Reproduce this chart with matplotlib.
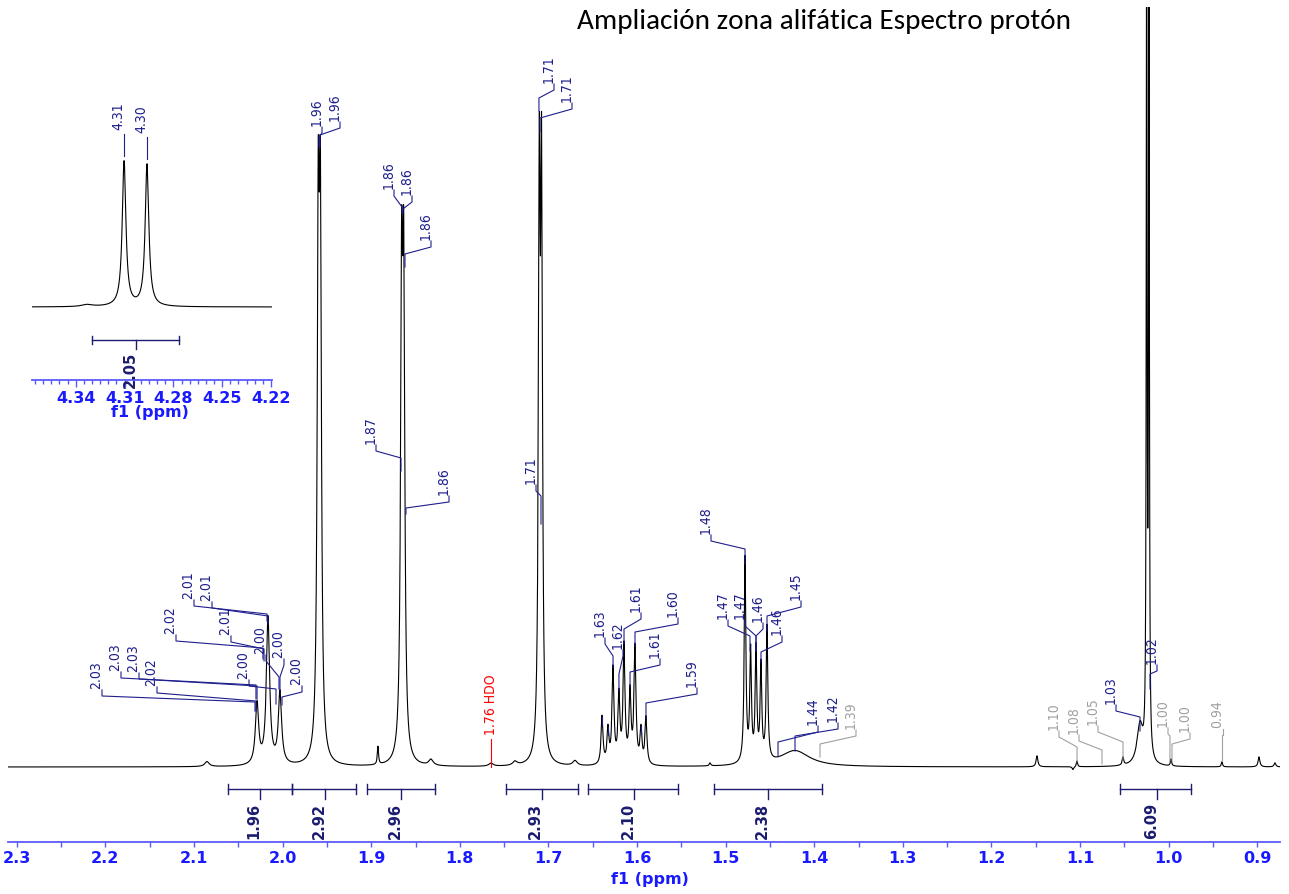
import numpy as np
import matplotlib
matplotlib.use('Agg')
import matplotlib.pyplot as plt
from matplotlib import font_manager as fm
import matplotlib.transforms as mtransforms

W, H, DPI = 1289, 895, 100

# ------------------------------------------------------------------ data
# main spectrum: peak centres (ppm), heights (arb.), half widths (ppm)
peak_ppm = [2.0854, 2.0289, 2.0165, 2.0030, 1.9598, 1.9574, 1.8924, 1.8657, 1.8633,
            1.8325, 1.7648, 1.7377, 1.7103, 1.7077, 1.6700,
            1.6395, 1.6328, 1.6271, 1.6204, 1.6147, 1.6079, 1.6023, 1.5955, 1.5899, 1.5176,
            1.4781, 1.4718, 1.4657, 1.4601, 1.4533, 1.4217,
            1.1486, 1.1079, 1.1034, 1.0515, 1.0323, 1.0248, 1.0222, 0.9973, 0.9398, 0.8980, 0.8800]
peak_height = [5, 61, 147, 72, 498, 498, 18, 443, 443,
               6, 3, 4, 555, 555, 5,
               48, 34, 95, 67, 117, 70, 116, 34, 47, 3,
               205, 110, 112, 95, 134, 16,
               11, -3, 6, 8, 40, 900, 900, 7, 5, 10, 4]
peak_hwhm = [0.003, 0.0022, 0.0022, 0.0022, 0.0014, 0.0014, 0.0008, 0.0014, 0.0014,
             0.003, 0.003, 0.003, 0.0012, 0.0012, 0.003,
             0.0013, 0.0013, 0.0013, 0.0013, 0.0013, 0.0013, 0.0013, 0.0013, 0.0013, 0.001,
             0.0011, 0.0011, 0.0011, 0.0011, 0.0011, 0.02,
             0.0012, 0.001, 0.0008, 0.001, 0.004, 0.0005, 0.0005, 0.0008, 0.0008, 0.0012, 0.0012]

main_ticks = [2.3, 2.2, 2.1, 2.0, 1.9, 1.8, 1.7, 1.6, 1.5, 1.4, 1.3, 1.2, 1.1, 1.0, 0.9]

# integrals
integral_from = [2.0617, 1.9894, 1.9051, 1.7479, 1.6559, 1.5131, 1.0550]
integral_to = [1.9894, 1.9172, 1.8276, 1.6667, 1.5543, 1.3907, 0.9750]
integral_mid = [2.0256, 1.9522, 1.8661, 1.7076, 1.6034, 1.4522, 1.0127]
integral_text = ['1.96', '2.92', '2.96', '2.93', '2.10', '2.38', '6.09']

# peak picking labels (touch point on spectrum)
pk_text = ['2.03', '2.03', '2.03', '2.02', '2.02', '2.01', '2.01', '2.01', '2.00', '2.00', '2.00', '2.00',
           '1.96', '1.96', '1.86', '1.86', '1.86', '1.87', '1.86', '1.71', '1.71', '1.71',
           '1.63', '1.62', '1.61', '1.60', '1.61', '1.59',
           '1.48', '1.47', '1.47', '1.46', '1.46', '1.45', '1.44', '1.42', '1.39',
           '1.10', '1.08', '1.05', '1.03', '1.02', '1.00', '1.00', '0.94']
pk_ppm = [2.0312, 2.0301, 2.0289, 2.0301, 2.0222, 2.0176, 2.0165, 2.0210, 2.0075, 2.0041, 2.0030, 2.0007,
          1.9590, 1.9578, 1.8653, 1.8642, 1.8619, 1.8664, 1.8608, 1.7107, 1.7095, 1.7084,
          1.6271, 1.6204, 1.6147, 1.6023, 1.6079, 1.5899,
          1.4781, 1.4725, 1.4657, 1.4657, 1.4601, 1.4533, 1.4409, 1.4217, 1.3935,
          1.1034, 1.0752, 1.0515, 1.0323, 1.0210, 0.9985, 0.9962, 0.9398]
pk_int = [56, 68, 68, 56, 108, 146, 143, 106, 63, 78, 76, 62,
          620, 620, 554, 554, 500, 296, 253, 656, 635, 243,
          100, 76, 123, 121, 80, 49,
          203, 116, 116, 116, 105, 136, 11, 16, 10,
          5, 3, 8, 36, 78, 6, 6, 6]
pk_grey = ['1.39', '1.10', '1.08', '1.05', '1.00', '0.94']

# unlabeled peak marks
mark_ppm = [1.6395, 1.6328, 1.5955]
mark_int = [50, 40, 41]

hdo_ppm, hdo_text = 1.7648, '1.76 HDO'

# inset (4.31 / 4.30 doublet)
inset_ppm = [4.3103, 4.2962, 4.3330]
inset_height = [145, 142, 2]
inset_hwhm = [0.00135, 0.00135, 0.004]
inset_ticks = [4.34, 4.31, 4.28, 4.25, 4.22]
inset_label_text = ['4.31', '4.30']
inset_label_ppm = [4.3103, 4.2962]
inset_label_int = [151, 148]
inset_integral = (4.3300, 4.2765, 4.3030, '2.05')

title = 'Ampliación zona alifática Espectro protón'

# ------------------------------------------------------------------ layout (pixels)
lab_x = [102, 121, 139, 157, 176, 194, 212, 231, 249, 266, 284, 302,
         322, 340, 394, 412, 431, 376, 449, 554, 572, 536,
         605, 623, 641, 678, 660, 697,
         711, 728, 745, 763, 782, 801, 818, 838, 856,
         1059, 1079, 1098, 1116, 1157, 1168, 1190, 1223]
lab_bend = [697, 679, 680, 694, 642, 607, 609, 643, 687, 662, 666, 693,
            134, 129, 197, 203, 248, 452, 503, 91, 110, 492,
            645, 657, 620, 625, 666, 695,
            542, 627, 627, 630, 643, 608, 733, 730, 737,
            738, 742, 733, 712, 672, 735, 740, 736]
lab_knee = [703, 686, 687, 702, 649, 615, 617, 650, 690, 678, 678, 698,
            138, 136, 208, 210, 255, 459, 509, 99, 119, 497,
            657, 675, 630, 633, 673, 704,
            550, 637, 637, 637, 653, 617, 743, 737, 745,
            748, 751, 743, 718, 675, 737, 745, 736]


def X(px):
    return 2.319 - px / 886.0


def Y(py):
    return 768.0 - py


# ------------------------------------------------------------------ fonts / colours
names = {f.name for f in fm.fontManager.ttflist}
if 'Liberation Sans Narrow' in names:
    lab_fp = fm.FontProperties(family='Liberation Sans Narrow', size=10.5)
else:
    cond = [f.fname for f in fm.fontManager.ttflist
            if f.name == 'DejaVu Sans' and 'Condensed' in f.fname
            and 'Bold' not in f.fname and 'Oblique' not in f.fname]
    if cond:
        lab_fp = fm.FontProperties(fname=cond[0], size=10)
    else:
        lab_fp = fm.FontProperties(family='DejaVu Sans', size=8.5)
title_family = 'Carlito' if 'Carlito' in names else 'Lato'

NAVY = '#1e1e8c'
GREY = '#a0a0a0'
BLUE_T = '#1a1aff'
BLUE_AX = '#5a5aff'
INT_C = '#1c1c70'

fig = plt.figure(figsize=(W / DPI, H / DPI), dpi=DPI)

# ------------------------------------------------------------------ main axes
ax = fig.add_axes([8 / W, (H - 843) / H, 1272 / W, 835 / H])
ax.set_xlim(X(8), X(1280))
ax.set_ylim(-75, 760)

grid = np.arange(X(1280), X(8), 0.00004)
spec = np.zeros_like(grid)
for p, h, g in zip(peak_ppm, peak_height, peak_hwhm):
    spec += h / (1.0 + ((grid - p) / g) ** 2)
ax.plot(grid, spec, color='black', lw=0.8)

for s in ['top', 'left', 'right']:
    ax.spines[s].set_visible(False)
ax.spines['bottom'].set_color(BLUE_AX)
ax.spines['bottom'].set_linewidth(1.3)
ax.tick_params(axis='y', left=False, labelleft=False)
ax.set_xticks(main_ticks)
ax.set_xticklabels(['%.1f' % t for t in main_ticks], fontweight='bold', fontsize=11.5)
ax.set_xticks(np.round(np.array(main_ticks[:-1]) - 0.05, 2), minor=True)
ax.tick_params(axis='x', which='both', direction='out', length=3.5, width=1.0,
               color=BLUE_AX, labelcolor=BLUE_T, pad=2.0)
fig.text(650 / W, 1 - 880 / H, 'f1 (ppm)', ha='center', va='center',
         fontsize=11.5, fontweight='bold', color=BLUE_T)

off = mtransforms.offset_copy(ax.transData, fig=fig, x=1.5, y=0, units='dots')

# peak labels
for t, p, iy, lx, by, ky in zip(pk_text, pk_ppm, pk_int, lab_x, lab_bend, lab_knee):
    col = GREY if t in pk_grey else NAVY
    xs = [p, p, X(lx), X(lx)]
    ys = [iy, Y(ky), Y(by), Y(by) + 6]
    ax.plot(xs, ys, color=col, lw=0.8, clip_on=False)
    ax.text(X(lx), Y(by) + 8, t, rotation=90, ha='right', va='bottom',
            fontproperties=lab_fp, color=col, transform=off)

for p, iy in zip(mark_ppm, mark_int):
    ax.plot([p, p], [iy, iy - 8], color=NAVY, lw=0.8)

# HDO
ax.plot([hdo_ppm, hdo_ppm], [0, 28], color='red', lw=0.8)
ax.text(hdo_ppm, 33, hdo_text, rotation=90, ha='center', va='bottom',
        fontproperties=lab_fp, color='red')

# integrals
ybar = Y(790)
for a, b, c, t in zip(integral_from, integral_to, integral_mid, integral_text):
    ax.plot([a, b], [ybar, ybar], color=INT_C, lw=1.0, clip_on=False)
    ax.plot([a, a], [ybar - 5, ybar + 5], color=INT_C, lw=1.0, clip_on=False)
    ax.plot([b, b], [ybar - 5, ybar + 5], color=INT_C, lw=1.0, clip_on=False)
    ax.plot([c, c], [ybar, ybar - 10], color=INT_C, lw=1.0, clip_on=False)
    ax.text(c, ybar - 13, t, rotation=90, ha='right', va='top', fontsize=10.5,
            fontweight='bold', color=INT_C, transform=off)

# ------------------------------------------------------------------ inset
axi = fig.add_axes([32 / W, (H - 381) / H, 240 / W, 251 / H])
ix_l, ix_r = 4.22 + (271 - 32) / 1627.0, 4.22 - 1 / 1627.0
axi.set_xlim(ix_l, ix_r)
axi.set_ylim(-73, 178)
igrid = np.arange(ix_r, ix_l, 0.00004)
ispec = np.zeros_like(igrid)
for p, h, g in zip(inset_ppm, inset_height, inset_hwhm):
    ispec += h / (1.0 + ((igrid - p) / g) ** 2)
axi.plot(igrid, ispec, color='black', lw=0.8)
axi.patch.set_alpha(0)
for s in ['top', 'left', 'right']:
    axi.spines[s].set_visible(False)
axi.spines['bottom'].set_color(BLUE_AX)
axi.spines['bottom'].set_linewidth(1.3)
axi.tick_params(axis='y', left=False, labelleft=False)
axi.set_xticks(inset_ticks)
axi.set_xticklabels(['%.2f' % t for t in inset_ticks], fontweight='bold', fontsize=11.5)
axi.set_xticks(np.round(np.arange(4.225, 4.366, 0.005), 3), minor=True)
axi.tick_params(axis='x', which='major', direction='out', length=5, width=1.0,
                color=BLUE_AX, labelcolor=BLUE_T, pad=2.0)
axi.tick_params(axis='x', which='minor', direction='out', length=3, width=1.0, color=BLUE_AX)
fig.text(150 / W, 1 - 413 / H, 'f1 (ppm)', ha='center', va='center',
         fontsize=11.5, fontweight='bold', color=BLUE_T)

offi = mtransforms.offset_copy(axi.transData, fig=fig, x=1.5, y=0, units='dots')
for t, p, iy in zip(inset_label_text, inset_label_ppm, inset_label_int):
    axi.plot([p, p], [iy, iy + 22], color=NAVY, lw=0.8, clip_on=False)
    axi.text(p, iy + 27, t, rotation=90, ha='right', va='bottom',
             fontproperties=lab_fp, color=NAVY, transform=offi)

a, b, c, t = inset_integral
ib = -33
axi.plot([a, b], [ib, ib], color=INT_C, lw=1.0, clip_on=False)
axi.plot([a, a], [ib - 4, ib + 4], color=INT_C, lw=1.0, clip_on=False)
axi.plot([b, b], [ib - 4, ib + 4], color=INT_C, lw=1.0, clip_on=False)
axi.plot([c, c], [ib, ib - 9], color=INT_C, lw=1.0, clip_on=False)
axi.text(c, ib - 11, t, rotation=90, ha='right', va='top', fontsize=10.5,
         fontweight='bold', color=INT_C, transform=offi, zorder=5)

# ------------------------------------------------------------------ title
fig.text(577 / W, 1 - 22 / H, title, ha='left', va='center', fontsize=21,
         family=title_family, color='black')

fig.savefig('out.png', dpi=DPI)
